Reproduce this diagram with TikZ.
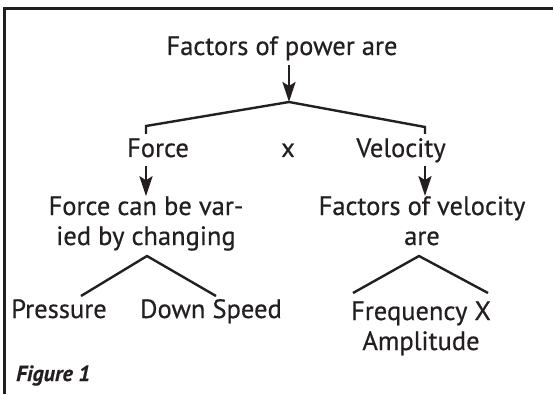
\documentclass[tikz,border=0pt]{standalone}
\usepackage{fontspec}
\setmainfont[FakeBold=0.5]{PT Sans}
\usepackage{xcolor}
\usetikzlibrary{arrows.meta}
\definecolor{ink}{RGB}{35,31,32}
\tikzset{
  txt/.style={inner sep=0pt,text=ink,font=\fontsize{26.5}{30}\selectfont,align=center},
  figcap/.style={inner sep=0pt,text=ink,font=\fontsize{22}{24}\selectfont\bfseries\itshape},
  br/.style={draw=ink,line width=2.4pt},
  ar/.style={draw=ink,line width=2.4pt,-{Stealth[length=20pt,width=13pt,inset=4pt]}},
  frm/.style={draw=ink,line width=2.6pt}
}

\begin{document}
\begin{tikzpicture}[x=1pt,y=1pt]
\useasboundingbox (0,0) rectangle (553,394);
\draw[frm] (4.7,0) |- (553,385.7);
% top of the tree
\node[txt,anchor=base] (power) at (282,339) {Factors of power are};
\coordinate (fork) at (289,292);
\coordinate (forktop) at (289,329);
\draw[ar] (forktop) -- (fork);
\node[txt,anchor=base] (force) at (158,237) {Force};
\node[txt,anchor=base] (times) at (288,237) {x};
\node[txt,anchor=base] (vel) at (401,237) {Velocity};
\coordinate (lft) at (146,268); \coordinate (lftend) at (146,260);
\coordinate (rgt) at (425,267); \coordinate (rgtend) at (425,260);
\draw[br] (lftend) -- (lft) -- (fork) -- (rgt) -- (rgtend);
% second level
\node[txt,anchor=base] (forcevar) at (146,149) {Force can be var-\\ied by changing};
\node[txt,anchor=base] (velfac) at (422,149) {Factors of velocity\\are};
\draw[ar,shorten <=9pt] (force.base -| lft) -- (forcevar.north -| lft);
\draw[ar,shorten <=9pt] (vel.base -| rgt) -- (velfac.north -| rgt);
% bottom level
\node[txt,anchor=base] (press) at (59,76) {Pressure};
\node[txt,anchor=base] (down) at (211,76) {Down Speed};
\node[txt,anchor=base] (freq) at (421,44) {Frequency X\\Amplitude};
\coordinate (lapex) at (147,138); \coordinate (rapex) at (419,138);
\coordinate (pressend) at (81,98); \coordinate (downend) at (216,98);
\coordinate (freqa) at (353,101); \coordinate (freqb) at (488,101);
\draw[br] (pressend) -- (lapex) -- (downend);
\draw[br] (freqa) -- (rapex) -- (freqb);
\node[figcap,anchor=base west] (fig) at (16,13) {Figure 1};
\end{tikzpicture}
\end{document}
